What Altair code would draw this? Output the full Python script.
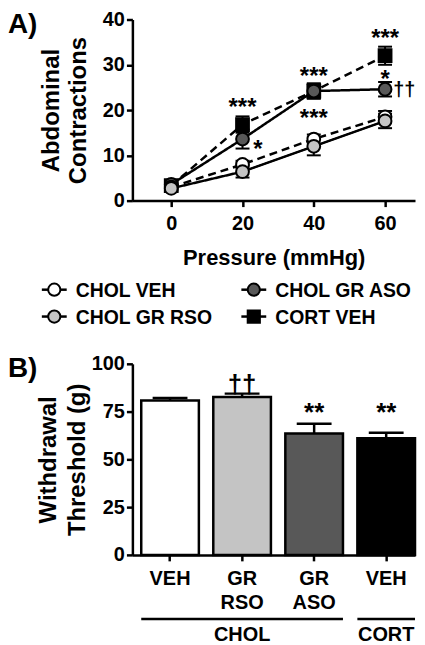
import altair as alt
import pandas as pd

FONT = "Liberation Sans"

# ---------------- Panel A data ----------------
pressure = [0, 20, 40, 60]
series_draw_order = ["CORT VEH", "CHOL GR ASO", "CHOL VEH", "CHOL GR RSO"]
legend_order = ["CHOL VEH", "CHOL GR ASO", "CHOL GR RSO", "CORT VEH"]

chol_veh = [3.0, 8.0, 13.6, 18.5]
chol_veh_err = [0.6, 0.8, 1.0, 1.3]
chol_gr_rso = [2.7, 6.4, 12.0, 17.6]
chol_gr_rso_err = [0.6, 1.3, 2.0, 1.6]
chol_gr_aso = [3.6, 13.6, 24.2, 24.6]
chol_gr_aso_err = [0.6, 2.1, 1.6, 1.6]
cort_veh = [3.3, 16.8, 24.2, 32.0]
cort_veh_err = [0.6, 1.8, 1.7, 2.0]

star_text = ["***", "*", "***", "***", "***", "*"]
star_x = [20, 24.3, 40, 40, 60, 60]
star_y = [21.7, 12.5, 28.7, 19.4, 37.1, 27.9]
dagger_text = ["††"]
dagger_x = [65.4]
dagger_y = [24.6]

# ---------------- Panel B data ----------------
bar_cats = ["CHOL VEH", "CHOL GR RSO", "CHOL GR ASO", "CORT VEH"]
bar_vals = [80.8, 82.6, 63.5, 61.1]
bar_errs = [1.3, 1.8, 5.1, 2.8]
bar_notes = ["", "††", "**", "**"]
bar_note_y = [None, 91.7, 76.6, 76.6]
groups = ["CHOL", "CORT"]
group_first = ["CHOL VEH", "CORT VEH"]
group_last = ["CHOL GR ASO", "CORT VEH"]
group_mid = ["CHOL GR RSO", "CORT VEH"]

# ---------------- styles ----------------
fill_map = {"CHOL VEH": "white", "CHOL GR RSO": "#c4c4c4",
            "CHOL GR ASO": "#585858", "CORT VEH": "black"}
shape_map = {"CHOL VEH": "circle", "CHOL GR RSO": "circle",
             "CHOL GR ASO": "circle", "CORT VEH": "square"}
dash_map = {"CHOL VEH": [8, 5], "CHOL GR RSO": [1, 0],
            "CHOL GR ASO": [1, 0], "CORT VEH": [8, 5]}
bar_fill = ["white", "#bdbdbd", "#404040", "black"]

HA = 182   # panel A plot height
WA = 284
HB = 192
WB = 284

means = {"CHOL VEH": chol_veh, "CHOL GR RSO": chol_gr_rso,
         "CHOL GR ASO": chol_gr_aso, "CORT VEH": cort_veh}
errs = {"CHOL VEH": chol_veh_err, "CHOL GR RSO": chol_gr_rso_err,
        "CHOL GR ASO": chol_gr_aso_err, "CORT VEH": cort_veh_err}

rows = []
for s in series_draw_order:
    for p, m, e in zip(pressure, means[s], errs[s]):
        rows.append({"series": s, "pressure": p, "mean": m, "lo": m - e, "hi": m + e})
dfA = pd.DataFrame(rows)

fill_scale = alt.Scale(domain=legend_order, range=[fill_map[s] for s in legend_order])
shape_scale = alt.Scale(domain=legend_order, range=[shape_map[s] for s in legend_order])

xA = alt.X("pressure:Q", scale=alt.Scale(domain=[-10.9, 68.4], nice=False, zero=False),
           axis=alt.Axis(values=pressure, title="Pressure (mmHg)", labelFlush=False,
                         titleFontSize=22, titlePadding=14, labelPadding=7))
yA = alt.Y("mean:Q", scale=alt.Scale(domain=[0, 40], nice=False),
           axis=alt.Axis(values=[0, 10, 20, 30, 40], title=["Abdominal", "Contractions"],
                         titleFontSize=24, titleLineHeight=27, titlePadding=12, labelPadding=2))

baseA = alt.Chart(dfA)
lines = baseA.mark_line(color="black", strokeWidth=2.5).encode(
    x=xA, y=yA, detail="series:N",
    strokeDash=alt.StrokeDash("series:N", scale=alt.Scale(domain=legend_order,
                              range=[dash_map[s] for s in legend_order]), legend=None),
)
err_rules = baseA.mark_rule(color="black", strokeWidth=2).encode(
    x="pressure:Q", y="lo:Q", y2="hi:Q")
caps = baseA.transform_fold(["lo", "hi"], as_=["end", "val"]).mark_tick(
    orient="horizontal", color="black", size=14, thickness=2, opacity=1).encode(
    x="pressure:Q", y="val:Q")
points = baseA.mark_point(filled=True, size=165, stroke="black", strokeWidth=2, opacity=1).encode(
    x="pressure:Q", y="mean:Q",
    fill=alt.Fill("series:N", scale=fill_scale, legend=None),
    shape=alt.Shape("series:N", scale=shape_scale, legend=None),
)

# manual legend (2 columns, row-major), laid out under the x-axis title
leg_base = alt.Chart(pd.DataFrame({"series": legend_order})).transform_window(
    idx="row_number()").transform_calculate(
    cx="-78.5 + ((datum.idx - 1) % 2) * 200.5",
    cy=f"{HA} + 89.5 + floor((datum.idx - 1) / 2) * 27",
).transform_calculate(lx="datum.cx - 12.5", rx="datum.cx + 12.5", tx="datum.cx + 21.5")
leg_lines = leg_base.mark_rule(color="black", strokeWidth=2.5).encode(
    x=alt.X("lx:Q", scale=None), x2="rx:Q", y=alt.Y("cy:Q", scale=None))
leg_pts = leg_base.mark_point(filled=True, size=150, stroke="black", strokeWidth=2, opacity=1).encode(
    x=alt.X("cx:Q", scale=None), y=alt.Y("cy:Q", scale=None),
    fill=alt.Fill("series:N", scale=fill_scale, legend=None),
    shape=alt.Shape("series:N", scale=shape_scale, legend=None))
leg_text = leg_base.mark_text(font=FONT, fontSize=19.5, fontWeight="bold", color="black",
                              align="left", baseline="middle", dy=1).encode(
    x=alt.X("tx:Q", scale=None), y=alt.Y("cy:Q", scale=None), text="series:N")

stars = alt.Chart(pd.DataFrame({"t": star_text, "x": star_x, "y": star_y})).mark_text(
    font=FONT, fontSize=24, fontWeight="bold", color="black", dy=6).encode(
    x="x:Q", y="y:Q", text="t:N")
daggers = alt.Chart(pd.DataFrame({"t": dagger_text, "x": dagger_x, "y": dagger_y})).mark_text(
    font=FONT, fontSize=20, fontWeight="bold", color="black", dy=1).encode(
    x="x:Q", y="y:Q", text="t:N")
labelA = alt.Chart(pd.DataFrame({"t": ["A)"]})).mark_text(
    font=FONT, fontSize=28, fontWeight="bold", color="black", align="left").encode(
    x=alt.value(-125), y=alt.value(6), text="t:N")

panelA = alt.layer(lines, err_rules, caps, points, leg_lines, leg_pts, leg_text,
                   stars, daggers, labelA).properties(width=WA, height=HA)

# ---------------- Panel B ----------------
dfB = pd.DataFrame({"cat": bar_cats, "val": bar_vals, "hi": [v + e for v, e in zip(bar_vals, bar_errs)],
                    "note": bar_notes, "note_y": bar_note_y})
xB_scale = alt.Scale(domain=bar_cats, paddingInner=0.2, paddingOuter=0.0614, align=1)
xB_axis = alt.Axis(title=None, labelAngle=0, labelExpr="slice(split(datum.label, ' '), 1)",
                   labelLineHeight=24, labelPadding=8, labelBaseline="top")
xB = alt.X("cat:N", scale=xB_scale, axis=xB_axis)
yB = alt.Y("val:Q", scale=alt.Scale(domain=[0, 100], nice=False),
           axis=alt.Axis(values=[0, 25, 50, 75, 100], title=["Withdrawal", "Threshold (g)"],
                         titleFontSize=24, titleLineHeight=29, titlePadding=2, labelPadding=2))
baseB = alt.Chart(dfB)
bars = baseB.mark_bar(stroke="black", strokeWidth=2.5).encode(
    x=xB, y=yB,
    fill=alt.Fill("cat:N", scale=alt.Scale(domain=bar_cats, range=bar_fill), legend=None))
b_err = baseB.mark_rule(color="black", strokeWidth=2.5).encode(
    x=xB, y="val:Q", y2="hi:Q")
b_cap = baseB.mark_tick(orient="horizontal", color="black", size=35, thickness=2.5, opacity=1).encode(
    x=xB, y="hi:Q")
b_notes = baseB.transform_filter("datum.note != ''").mark_text(
    font=FONT, fontSize=26, fontWeight="bold", color="black", dy=5).encode(
    x=xB, y="note_y:Q", text="note:N")

dfG = pd.DataFrame({"group": groups, "first": group_first, "last": group_last, "mid": group_mid})
g_lines = alt.Chart(dfG).mark_rule(color="black", strokeWidth=2.5).encode(
    x=alt.X("first:N", scale=xB_scale, bandPosition=0, axis=xB_axis),
    x2=alt.X2("last:N", bandPosition=1),
    y=alt.value(256.5))
g_text = alt.Chart(dfG).mark_text(font=FONT, fontSize=20, fontWeight="bold", color="black").encode(
    x=alt.X("mid:N", scale=xB_scale, axis=xB_axis), y=alt.value(273), text="group:N")
labelB = alt.Chart(pd.DataFrame({"t": ["B)"]})).mark_text(
    font=FONT, fontSize=28, fontWeight="bold", color="black", align="left").encode(
    x=alt.value(-125), y=alt.value(5), text="t:N")

panelB = alt.layer(bars, b_err, b_cap, b_notes, g_lines, g_text, labelB).properties(width=WB, height=HB)

chart = alt.vconcat(panelA, panelB, spacing=27, padding=0).configure_view(stroke=None).configure_axis(
    domainColor="black", domainWidth=2.5, tickColor="black", tickWidth=2.5, tickSize=6,
    labelFont=FONT, labelFontSize=20, labelFontWeight="bold", labelColor="black",
    titleFont=FONT, titleFontWeight="bold", titleColor="black", grid=False,
)

chart.save("out.html", embed_options={"renderer": "svg", "actions": False})
